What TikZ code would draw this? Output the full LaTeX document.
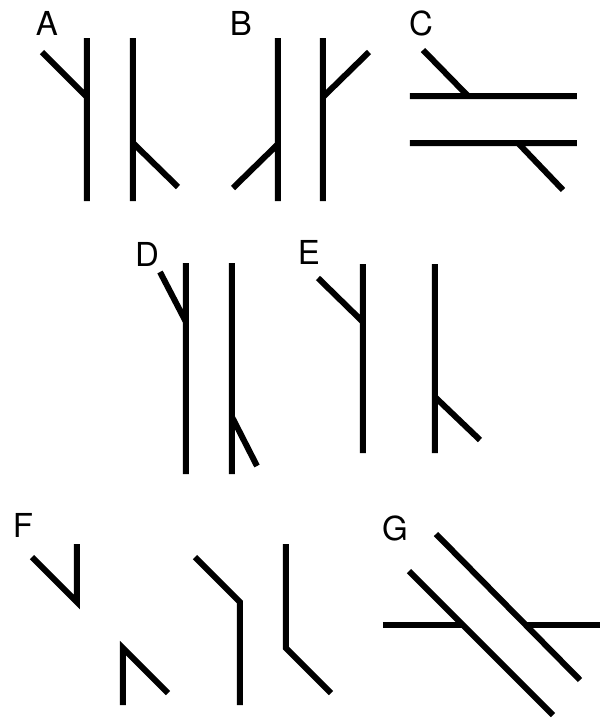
\documentclass[tikz,border=0pt]{standalone}
\usepackage{fontspec}
\setmainfont{TeX Gyre Heros}
\begin{document}
\begin{tikzpicture}[x = .5pt, y = -.5pt, line width = 3pt,
    font = \fontsize{16.5}{20}\selectfont, inner sep = 0pt]
  \useasboundingbox (0,0) rectangle (600,720);
  % A
  \node (labA) at (47,23) {A};
  \draw (87,38) -- (87,201) (42,52) -- (87,97);
  \draw (133,38) -- (133,201) (133,143) -- (178,187);
  % B
  \node (labB) at (241,23) {B};
  \draw (278,38) -- (278,201) (233,188) -- (278,144);
  \draw (323,38) -- (323,201) (323,97) -- (369,52);
  % C
  \node (labC) at (421,23) {C};
  \draw (410,96) -- (577,96) (423,50) -- (468,96);
  \draw (410,143) -- (577,143) (518,143) -- (563,190);
  % D
  \node (labD) at (147,254) {D};
  \draw (186,263) -- (186,474) (160,272) -- (186,322);
  \draw (232,263) -- (232,474) (232,417) -- (257,466);
  % E
  \node (labE) at (309,252) {E};
  \draw (363,264) -- (363,453) (318,278) -- (363,322);
  \draw (435,264) -- (435,453) (435,397) -- (480,440);
  % F
  \node (labF) at (23,525) {F};
  \draw (32,557) -- (77,602) -- (77,544);
  \draw (123,705) -- (123,648) -- (168,693);
  \draw (195,557) -- (240,602) -- (240,705);
  \draw (286,544) -- (286,648) -- (331,693);
  % G
  \node (labG) at (395,528) {G};
  \draw (409,571) -- (553,715) (436,534) -- (580,680);
  \draw (383,625) -- (463,625) (527,625) -- (600,625);
\end{tikzpicture}
\end{document}
